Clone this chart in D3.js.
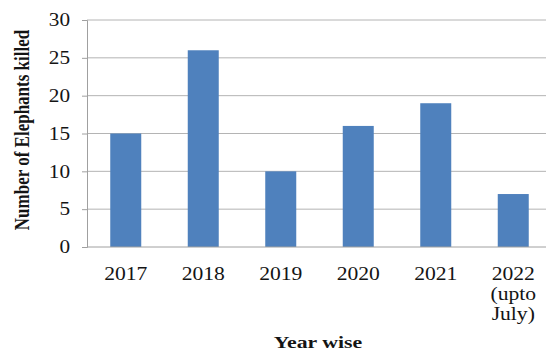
<!DOCTYPE html>
<html><head><meta charset="utf-8">
<script src="https://cdn.jsdelivr.net/npm/d3@7"></script>
<style>body{margin:0;background:#fff}svg{display:block}</style>
</head><body><svg id="c" width="546" height="352"></svg>
<script>
const categories = [["2017"],["2018"],["2019"],["2020"],["2021"],["2022","(upto","July)"]];
const values = [15, 26, 10, 16, 19, 7];
const yTicks = [0, 5, 10, 15, 20, 25, 30];

const svg = d3.select("#c");
const m = {left: 87, right: 552, top: 20, bottom: 247};
const keys = categories.map(c => c.join(" "));
const x = d3.scaleBand().domain(keys).range([m.left, m.right]).paddingInner(0.6).paddingOuter(0.3);
const y = d3.scaleLinear().domain([0, 30]).range([m.bottom, m.top]);
const font = "'Liberation Serif','Times New Roman',serif";
const ink = "#141414";

function stretch(sel, k) {
  sel.each(function() {
    const w = this.getComputedTextLength();
    d3.select(this).attr("textLength", w * k).attr("lengthAdjust", "spacingAndGlyphs");
  });
}

// gridlines
svg.append("g").selectAll("line").data(yTicks.filter(d => d > 0)).join("line")
  .attr("x1", m.left).attr("x2", m.right)
  .attr("y1", d => y(d)).attr("y2", d => y(d))
  .attr("stroke", "#b4b4b4").attr("stroke-width", 1);

// y axis
const ya = svg.append("g").attr("transform", `translate(${m.left},0)`)
  .call(d3.axisLeft(y).tickValues(yTicks).tickSize(5).tickPadding(12));
ya.select(".domain").attr("stroke", "#a0a0a0");
ya.selectAll(".tick line").attr("stroke", "#a0a0a0");
ya.selectAll("text").attr("font-family", font).attr("font-size", 18).attr("fill", ink);
stretch(ya.selectAll("text"), 1.18);

// bars
svg.append("g").selectAll("rect").data(values).join("rect")
  .attr("x", (d, i) => x(keys[i]))
  .attr("width", x.bandwidth())
  .attr("y", d => y(d))
  .attr("height", d => y(0) - y(d))
  .attr("fill", "#4f81bd");

// x axis line
svg.append("line").attr("x1", m.left).attr("x2", m.right)
  .attr("y1", y(0)).attr("y2", y(0)).attr("stroke", "#a0a0a0");

// x labels (one text per line)
const lines = [];
categories.forEach((c, i) => c.forEach((t, j) => lines.push({t, i, j})));
const xl = svg.append("g").selectAll("text").data(lines).join("text")
  .attr("x", d => x(keys[d.i]) + x.bandwidth() / 2)
  .attr("y", d => 280 + d.j * 20)
  .attr("text-anchor", "middle")
  .attr("font-family", font).attr("font-size", 18).attr("fill", ink)
  .text(d => d.t);
stretch(xl, 1.2);

// axis titles
const xt = svg.append("text").attr("x", 318).attr("y", 348).attr("text-anchor", "middle")
  .attr("font-family", font).attr("font-weight", "bold").attr("font-size", 17).attr("fill", ink)
  .text("Year wise");
stretch(xt, 1.28);
svg.append("text").attr("transform", "translate(29,130) scale(1.22,1) rotate(-90)").attr("text-anchor", "middle")
  .attr("font-family", font).attr("font-weight", "bold").attr("font-size", 17).attr("fill", ink)
  .text("Number of Elephants killed");
</script></body></html>
